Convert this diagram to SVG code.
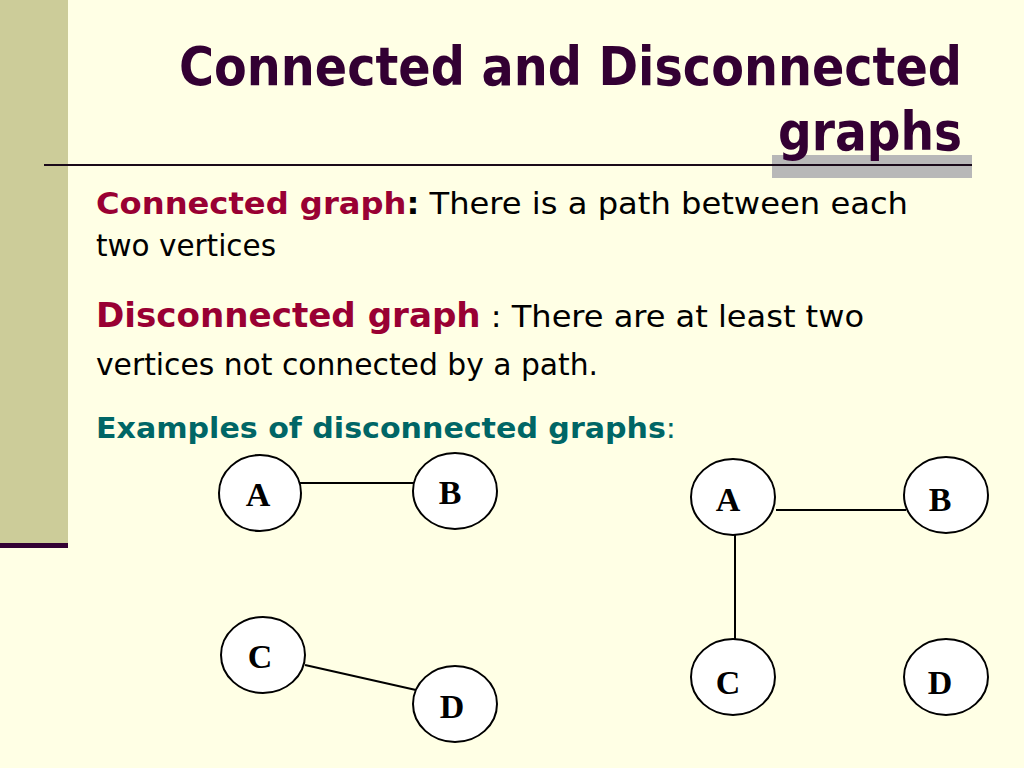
<svg xmlns="http://www.w3.org/2000/svg" width="1024" height="768" viewBox="0 0 1024 768">
<style>
.t{font-family:Tahoma,"DejaVu Sans Condensed","DejaVu Sans",sans-serif}
.n{fill:#fff;stroke:#000;stroke-width:2}
.l{font-family:"Liberation Serif",serif;font-weight:bold;font-size:34px;text-anchor:middle}
.e{stroke:#000;stroke-width:2}
</style>
<rect width="1024" height="768" fill="#ffffe5"/>
<rect x="0" y="0" width="68" height="545" fill="#cccc99"/>
<rect x="0" y="543" width="68" height="5" fill="#330033"/>
<rect x="772" y="155" width="200" height="23" fill="#b8b8b8"/>
<line x1="44" y1="165" x2="972" y2="165" stroke="#1a0a1a" stroke-width="2"/>
<g class="t" font-weight="bold" font-size="54" fill="#330033" text-anchor="end">
<text x="962" y="85" textLength="783" lengthAdjust="spacingAndGlyphs">Connected and Disconnected</text>
<text x="962" y="150" textLength="184" lengthAdjust="spacingAndGlyphs">graphs</text>
</g>
<g class="t" font-size="31">
<text x="96" y="214" textLength="812" lengthAdjust="spacingAndGlyphs"><tspan fill="#990033" font-weight="bold">Connected graph</tspan><tspan font-weight="bold">:</tspan> There is a path between each</text>
<text x="96" y="256" textLength="180" lengthAdjust="spacingAndGlyphs">two vertices</text>
<text x="96" y="327" textLength="768" lengthAdjust="spacingAndGlyphs"><tspan fill="#990033" font-weight="bold" font-size="33">Disconnected graph</tspan> : There are at least two</text>
<text x="96" y="375" textLength="502" lengthAdjust="spacingAndGlyphs">vertices not connected by a path.</text>
<text x="96" y="438" font-size="29" fill="#006666" textLength="580" lengthAdjust="spacingAndGlyphs"><tspan font-weight="bold">Examples of disconnected graphs</tspan>:</text>
</g>
<g id="edges">
<line class="e" x1="298" y1="483" x2="414" y2="483"/>
<line class="e" x1="305" y1="665" x2="416" y2="690"/>
<line class="e" x1="776" y1="510" x2="906" y2="510"/>
<line class="e" x1="735" y1="535" x2="735" y2="640"/>
</g>
<g id="A1"><ellipse class="n" cx="260" cy="493" rx="41" ry="38"/><text class="l" x="258" y="506">A</text></g>
<g id="B1"><ellipse class="n" cx="455" cy="491" rx="42" ry="38"/><text class="l" x="450" y="504">B</text></g>
<g id="C1"><ellipse class="n" cx="263" cy="655" rx="42" ry="38"/><text class="l" x="260" y="668">C</text></g>
<g id="D1"><ellipse class="n" cx="455" cy="704" rx="42" ry="38"/><text class="l" x="452" y="718">D</text></g>
<g id="A2"><ellipse class="n" cx="733" cy="497" rx="42" ry="38"/><text class="l" x="728" y="511">A</text></g>
<g id="B2"><ellipse class="n" cx="946" cy="495" rx="42" ry="38"/><text class="l" x="940" y="511">B</text></g>
<g id="C2"><ellipse class="n" cx="733" cy="677" rx="42" ry="38"/><text class="l" x="728" y="694">C</text></g>
<g id="D2"><ellipse class="n" cx="946" cy="677" rx="42" ry="38"/><text class="l" x="940" y="694">D</text></g>
</svg>
